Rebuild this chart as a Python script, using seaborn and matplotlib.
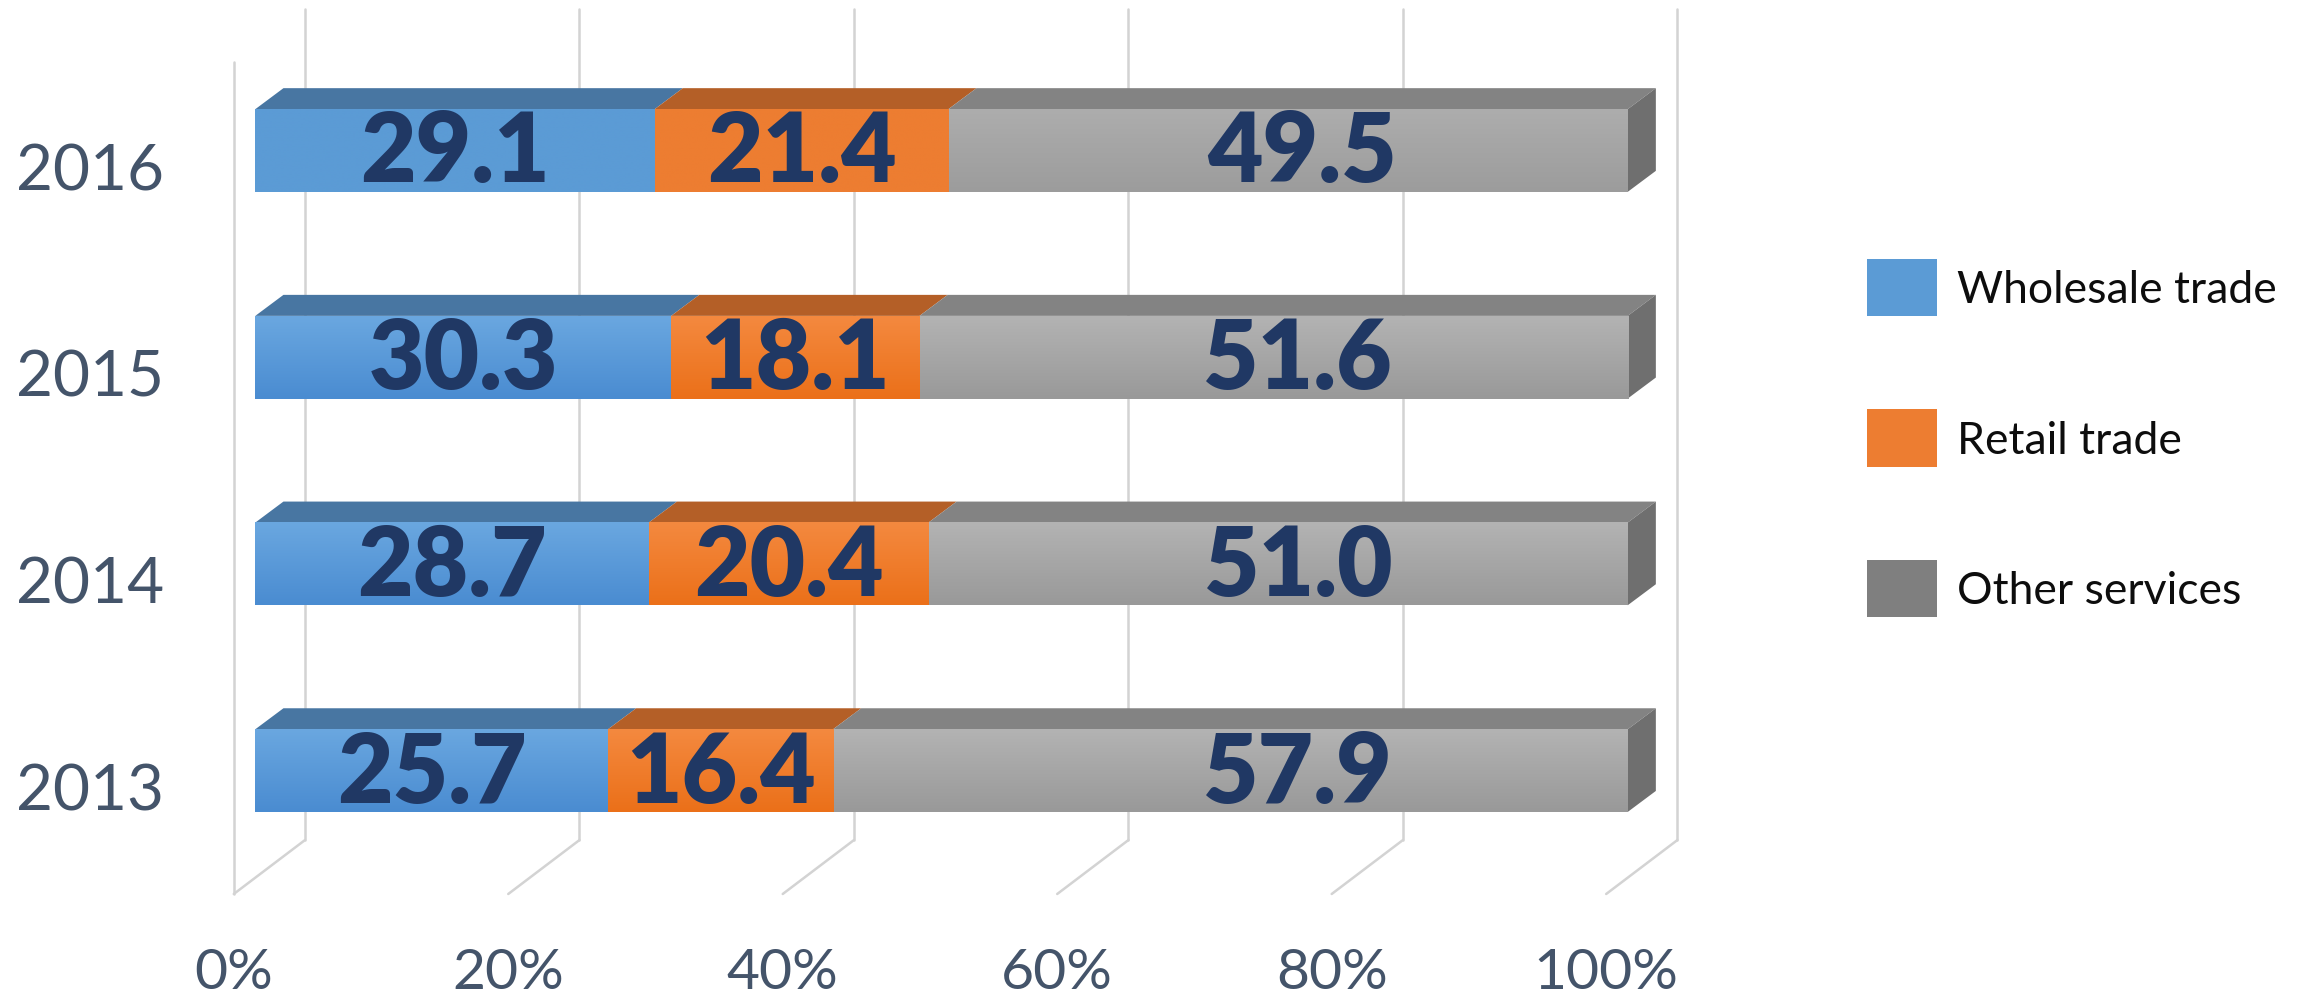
import numpy as np
import pandas as pd
import matplotlib
matplotlib.use("Agg")
import matplotlib.pyplot as plt
import seaborn as sns
from matplotlib.patches import Polygon, Patch
from matplotlib.colors import LinearSegmentedColormap

# data
years = ["2016", "2015", "2014", "2013"]
wholesale = [29.1, 30.3, 28.7, 25.7]
retail = [21.4, 18.1, 20.4, 16.4]
other = [49.5, 51.6, 51.0, 57.9]
series = ["Wholesale trade", "Retail trade", "Other services"]
ticks = [0, 20, 40, 60, 80, 100]
tick_labels = ["0%", "20%", "40%", "60%", "80%", "100%"]

df = pd.DataFrame({"Year": years, "Wholesale trade": wholesale,
                   "Retail trade": retail, "Other services": other})
vals = df[series].to_numpy()
shares = vals / vals.sum(axis=1, keepdims=True) * 100
cum = np.cumsum(shares, axis=1)
left = np.hstack([np.zeros((len(years), 1)), cum[:, :-1]])

# colours: front gradient (top, bottom), top face
front_cols = {
    "Wholesale trade": ("#6aa7e0", "#4a8cd1"),
    "Retail trade": ("#f4893f", "#eb7019"),
    "Other services": ("#b3b3b3", "#999999"),
}
flat_cols = {
    "Wholesale trade": ("#5b9bd5", "#5b9bd5"),
    "Retail trade": ("#ed7d31", "#ed7d31"),
    "Other services": ("#adadad", "#9c9c9c"),
}
top_cols = {"Wholesale trade": "#4876a2", "Retail trade": "#b45f27",
            "Other services": "#838383"}
legend_cols = {"Wholesale trade": "#5b9bd5", "Retail trade": "#ed7d31",
               "Other services": "#7f7f7f"}

sns.set_theme(style="white")
plt.rcParams["font.family"] = ["Lato", "DejaVu Sans"]

fig = plt.figure(figsize=(23.05, 10.03), dpi=100)
ax = fig.add_axes([0, 0, 1, 1])

bar_h = 0.40
ddx, ddy = 2.05, -0.1016      # bar depth offset in data units
grid_col = "#d3d3d3"
front_off, back_off = -1.57, 3.62
floor_front, floor_back, wall_top = 3.597, 3.336, -0.685

# back wall + floor grid
for v in ticks:
    ax.plot([v + back_off, v + back_off], [wall_top, floor_back],
            color=grid_col, lw=1.8, zorder=1, solid_capstyle="round")
    ax.plot([v + back_off, v + front_off], [floor_back, floor_front],
            color=grid_col, lw=1.8, zorder=1, solid_capstyle="round")
ax.plot([front_off, front_off], [-0.428, floor_front], color=grid_col,
        lw=1.8, zorder=1, solid_capstyle="round")

# front faces: stacked by drawing cumulative totals back to front
for k in reversed(range(len(series))):
    name = series[k]
    z = 3 + (len(series) - k)
    sns.barplot(x=cum[:, k], y=years, orient="h", color=legend_cols[name],
                width=bar_h, errorbar=None, ax=ax, zorder=z, linewidth=0)
    for i in range(len(years)):
        c_top, c_bot = (flat_cols if i == 0 else front_cols)[name]
        cmap = LinearSegmentedColormap.from_list("g", [c_top, c_bot])
        grad = np.linspace(0, 1, 100).reshape(-1, 1)
        ax.imshow(grad, cmap=cmap, aspect="auto", origin="upper",
                  extent=[left[i, k], cum[i, k], i + bar_h / 2, i - bar_h / 2],
                  zorder=z + 0.5, interpolation="bilinear")

# top faces and right side face
for i in range(len(years)):
    yt, yb = i - bar_h / 2, i + bar_h / 2
    for k, name in enumerate(series):
        l, r = left[i, k], cum[i, k]
        ax.add_patch(Polygon([(l, yt), (r, yt), (r + ddx, yt + ddy), (l + ddx, yt + ddy)],
                             closed=True, facecolor=top_cols[name], edgecolor="none", zorder=2))
    r = cum[i, -1]
    ax.add_patch(Polygon([(r, yt), (r + ddx, yt + ddy), (r + ddx, yb + ddy), (r, yb)],
                         closed=True, facecolor="#6f6f6f", edgecolor="none", zorder=2))

# value labels (last series labels sit a bit right of centre, as in the original)
for i in range(len(years)):
    for k, name in enumerate(series):
        xm = (left[i, k] + cum[i, k]) / 2
        if k == len(series) - 1:
            xm = max(xm, 75) + 1
        ax.text(xm, i + 0.012, f"{vals[i, k]:.1f}",
                ha="center", va="center", fontsize=69, fontweight="heavy",
                color="#203864", zorder=10)

# category labels and value axis labels
for i, y in enumerate(years):
    ax.text(-12.04, i + 0.1, y, ha="center", va="center", fontsize=46,
            color="#44546a")
for v, t in zip(ticks, tick_labels):
    ax.text(v + front_off, 3.979, t, ha="center", va="center", fontsize=41,
            color="#44546a")

ax.set_xlim(-18.603, 149.35)
ax.set_ylim(4.1195, -0.733)
ax.axis("off")

handles = [Patch(facecolor=legend_cols[s], edgecolor="none") for s in series]
fig.legend(handles, series, loc="upper left", frameon=False, fontsize=32,
           bbox_to_anchor=(1867 / 2305, 1 - 260 / 1003), borderpad=0,
           borderaxespad=0, handlelength=1.58, handleheight=1.6,
           handletextpad=0.45, labelspacing=2.1, labelcolor="#0d0d0d")

fig.savefig("out.png", dpi=100)
